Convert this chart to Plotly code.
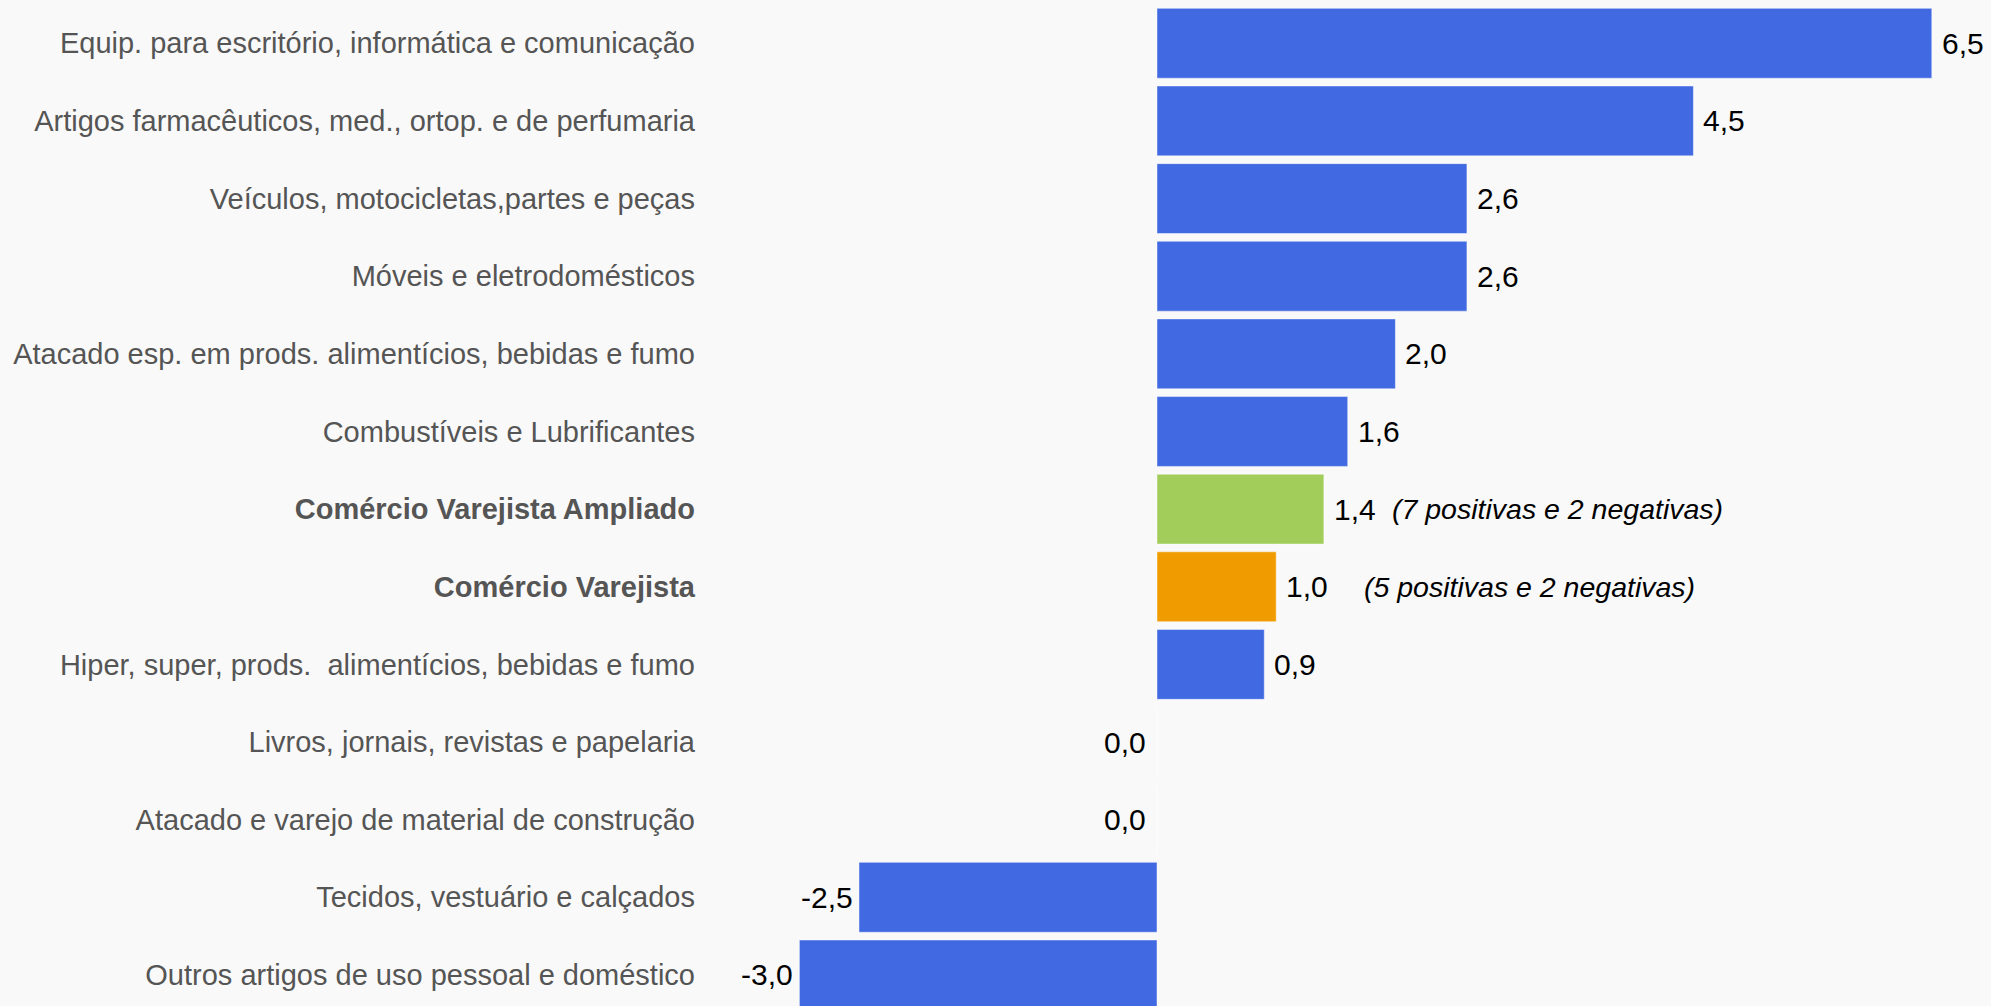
import plotly.graph_objects as go

categories = [
    "Equip. para escritório, informática e comunicação",
    "Artigos farmacêuticos, med., ortop. e de perfumaria",
    "Veículos, motocicletas,partes e peças",
    "Móveis e eletrodomésticos",
    "Atacado esp. em prods. alimentícios, bebidas e fumo",
    "Combustíveis e Lubrificantes",
    "Comércio Varejista Ampliado",
    "Comércio Varejista",
    "Hiper, super, prods.  alimentícios, bebidas e fumo",
    "Livros, jornais, revistas e papelaria",
    "Atacado e varejo de material de construção",
    "Tecidos, vestuário e calçados",
    "Outros artigos de uso pessoal e doméstico",
]
values = [6.5, 4.5, 2.6, 2.6, 2.0, 1.6, 1.4, 1.0, 0.9, 0.0, 0.0, -2.5, -3.0]
notes = {
    "Comércio Varejista Ampliado": "(7 positivas e 2 negativas)",
    "Comércio Varejista": "(5 positivas e 2 negativas)",
}
note_shift = {"Comércio Varejista Ampliado": 66, "Comércio Varejista": 86}

BLUE = "#4169e1"
special_colors = {"Comércio Varejista Ampliado": "#a3cd5b", "Comércio Varejista": "#f09c00"}
bold_cats = set(special_colors)

colors = [special_colors.get(c, BLUE) for c in categories]
ticktext = [f"<b>{c}</b>" if c in bold_cats else c for c in categories]

FONT = "Liberation Sans, Arial, sans-serif"

fig = go.Figure(
    go.Bar(
        x=values,
        y=categories,
        orientation="h",
        marker=dict(color=colors, line=dict(color="rgba(255,255,255,0.45)", width=1)),
        hoverinfo="skip",
    )
)

annotations = []
for c, v in zip(categories, values):
    label = f"{v:.1f}".replace(".", ",")
    if v > 0:
        annotations.append(dict(x=v, y=c, xref="x", yref="y", text=label, showarrow=False,
                                xanchor="left", xshift=8, font=dict(size=30, color="#000", family=FONT)))
    else:
        annotations.append(dict(x=v, y=c, xref="x", yref="y", text=label, showarrow=False,
                                xanchor="right", xshift=-4 if v < 0 else -9,
                                font=dict(size=30, color="#000", family=FONT)))
    if c in notes:
        annotations.append(dict(x=v, y=c, xref="x", yref="y", text=f"<i>{notes[c]}</i>",
                                showarrow=False, xanchor="left", xshift=note_shift[c],
                                font=dict(size=28.5, color="#000", family=FONT)))

fig.update_layout(
    width=1991,
    height=1006,
    margin=dict(l=700, r=0, t=0, b=0),
    paper_bgcolor="#f9f9f9",
    plot_bgcolor="#f9f9f9",
    bargap=0.1,
    showlegend=False,
    font=dict(family=FONT),
    annotations=annotations,
    xaxis=dict(range=[-(1157 - 700) / 119.2, (1991 - 1157) / 119.2], visible=False,
               showgrid=False, zeroline=False),
    yaxis=dict(range=[12.40, -0.5577], autorange=False, tickmode="array",
               tickvals=categories, ticktext=ticktext, showgrid=False, zeroline=False,
               showline=False, ticks="", ticklabelstandoff=4,
               tickfont=dict(size=29, color="#555555", family=FONT)),
)

fig.write_html(
    "out.html",
    config={"displayModeBar": False},
    post_script="document.body.style.margin='0';document.body.style.overflow='hidden';"
                "document.body.style.background='#f9f9f9';",
)
